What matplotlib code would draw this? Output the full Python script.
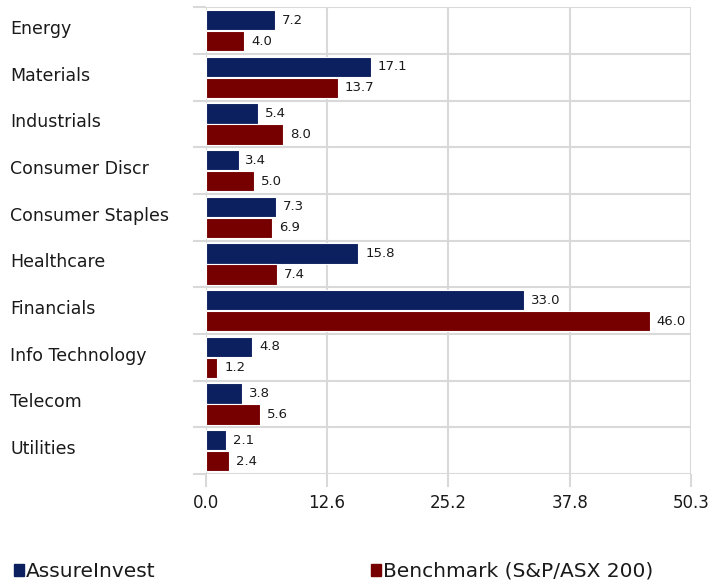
import matplotlib
matplotlib.use("Agg")
import matplotlib.pyplot as plt
from matplotlib.patches import Rectangle
import numpy as np

categories = ["Energy", "Materials", "Industrials", "Consumer Discr", "Consumer Staples",
              "Healthcare", "Financials", "Info Technology", "Telecom", "Utilities"]
assure = [7.2, 17.1, 5.4, 3.4, 7.3, 15.8, 33.0, 4.8, 3.8, 2.1]
bench = [4.0, 13.7, 8.0, 5.0, 6.9, 7.4, 46.0, 1.2, 5.6, 2.4]
xticks = [0.0, 12.575, 25.15, 37.725, 50.3]
xticklabels = ["0.0", "12.6", "25.2", "37.8", "50.3"]
series_names = ["AssureInvest", "Benchmark (S&P/ASX 200)"]

BLUE = "#0c1f5e"
RED = "#760000"
GRID = "#d9d9d9"
TXT = "#1a1a1a"

plt.rcParams['font.family'] = ['DejaVu Sans']

fig = plt.figure(figsize=(7.13, 5.84), dpi=100)
ax = fig.add_axes([205.7/713, 1-474/584, (691-205.7)/713, (474-7.3)/584])

y = np.arange(len(categories))
h = 0.44
ax.barh(y - 0.225, assure, height=h, color=BLUE, edgecolor="white", linewidth=0.8, zorder=3)
ax.barh(y + 0.225, bench, height=h, color=RED, edgecolor="white", linewidth=0.8, zorder=3)

for yi, v in zip(y, assure):
    ax.annotate(f"{v:.1f}", (v, yi - 0.225), xytext=(5, 0), textcoords="offset points",
                va="center", ha="left", fontsize=9.5, color=TXT, zorder=4)
for yi, v in zip(y, bench):
    ax.annotate(f"{v:.1f}", (v, yi + 0.225), xytext=(5, 0), textcoords="offset points",
                va="center", ha="left", fontsize=9.5, color=TXT, zorder=4)

ax.set_xlim(0, 50.3)
ax.set_ylim(len(categories) - 0.5, -0.5)
ax.set_xticks(xticks)
ax.set_xticklabels(xticklabels, fontsize=12, color=TXT)
# label anchors sit slightly above each category centre, as in the reference
ax.set_yticks(y - 0.08)
ax.set_yticklabels(categories, fontsize=12.5, color=TXT, ha="left")
ax.set_yticks(np.arange(-0.5, len(categories), 1.0), minor=True)

ax.tick_params(axis="y", which="major", length=0, pad=(205.7-10)*0.72)
ax.tick_params(axis="y", which="minor", length=9.4, width=1.5, color=GRID, direction="out")
ax.tick_params(axis="x", which="major", length=9.4, width=1.5, color=GRID, direction="out", pad=5)

ax.grid(True, axis="x", which="major", color=GRID, linewidth=1.5, zorder=0)
ax.grid(True, axis="y", which="minor", color=GRID, linewidth=1.5, zorder=0)
ax.grid(False, axis="y", which="major")
for s in ax.spines.values():
    s.set_visible(False)
ax.set_axisbelow(True)

handles = [Rectangle((0, 0), 1, 1, color=BLUE), Rectangle((0, 0), 1, 1, color=RED)]
leg1 = fig.legend([handles[0]], [series_names[0]], loc="lower left",
                  bbox_to_anchor=(6/713, -5/584), frameon=False, fontsize=14.5,
                  handlelength=0.5, handleheight=0.5, handletextpad=0.1, borderaxespad=0,
                  labelcolor=TXT)
leg2 = fig.legend([handles[1]], [series_names[1]], loc="lower left",
                  bbox_to_anchor=(363/713, -5/584), frameon=False, fontsize=14.5,
                  handlelength=0.5, handleheight=0.5, handletextpad=0.1, borderaxespad=0,
                  labelcolor=TXT)

fig.savefig("out.png", dpi=100)
